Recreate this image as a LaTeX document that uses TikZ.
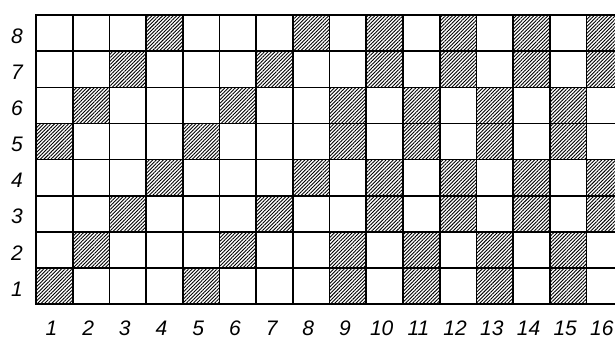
\documentclass[tikz,border=0pt]{standalone}
\usepackage{fontspec}
\setmainfont{Liberation Sans}
\usetikzlibrary{patterns.meta}

\tikzset{
  hatched/.style={pattern={Lines[angle=45,distance=2.5pt,line width=0.9pt]}},
  gridline/.style={line width=1.7pt, line cap=rect},
  numlabel/.style={font=\itshape\fontsize{21}{21}\selectfont, inner sep=0pt}
}

\begin{document}
\begin{tikzpicture}[x=1pt,y=1pt]

    \clip (0,0) rectangle (615,341);

    \begin{scope}[shift={(36,37)}, x=36.7pt, y=36.1pt]

    \foreach \r/\cols in {1/{1,5,9,11,13,15}, 2/{2,6,9,11,13,15},
                          3/{3,7,10,12,14,16}, 4/{4,8,10,12,14,16},
                          5/{1,5,9,11,13,15}, 6/{2,6,9,11,13,15},
                          7/{3,7,10,12,14,16}, 8/{4,8,10,12,14,16}}
        \foreach \c in \cols
            \fill [hatched] (\c-1, \r-1) rectangle (\c, \r);

    \foreach \c in {0,...,16}
        \draw [gridline] (\c, 0) -- (\c, 8);
    \foreach \r in {0,...,8}
        \draw [gridline] (0, \r) -- (16, \r);

    \foreach \r in {1,...,8}
        \node [numlabel] (row\r) at (-0.52, \r-0.58) {\r};
    \foreach \c in {1,...,16}
        \node [numlabel] (col\c) at (\c-0.58, -0.68) {\c};

    \end{scope}

\end{tikzpicture}
\end{document}
